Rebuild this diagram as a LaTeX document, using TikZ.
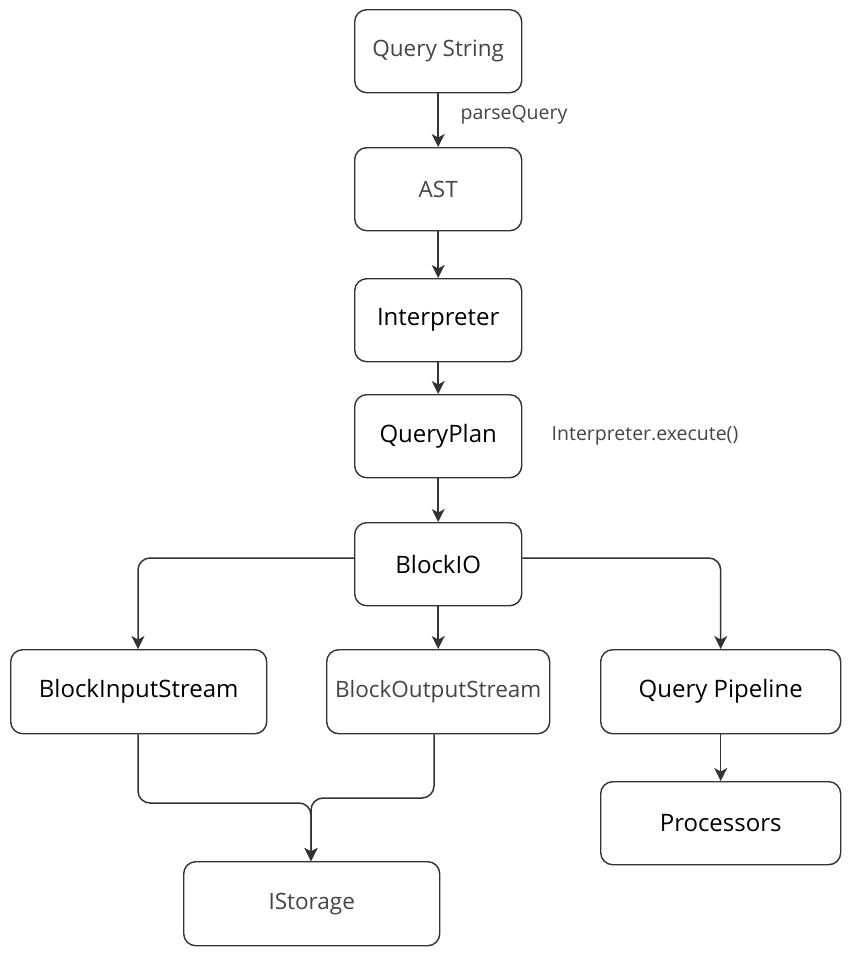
\documentclass[tikz,border=0pt]{standalone}
\usepackage{fontspec}
\setmainfont{Open Sans}
\usetikzlibrary{arrows.meta}
\definecolor{lc}{HTML}{333333}
\definecolor{tg}{HTML}{444444}
\tikzset{
  box/.style={draw=lc, line width=1.4pt, rounded corners=12pt, inner sep=0pt, anchor=north west},
  dk/.style={text=black, font=\fontsize{24}{28}\selectfont},
  gy/.style={text=tg, font=\fontsize{22.5}{26}\selectfont},
  lbl/.style={text=tg, font=\fontsize{19.5}{23}\selectfont},
  conn/.style={draw=lc, line width=1.5pt, -{Stealth[length=13pt,width=13pt,inset=3.5pt]}, rounded corners=12pt},
}
\begin{document}
\begin{tikzpicture}[x=1pt,y=-1pt]
\useasboundingbox (0,0) rectangle (854,954);
\node[box, minimum width=167pt, minimum height=83pt, gy] (qs) at (354,9) {Query String};
\node[box, minimum width=167pt, minimum height=83pt, gy] (ast) at (354,147) {AST};
\node[box, minimum width=167pt, minimum height=83pt, dk] (int) at (354,278) {Interpreter};
\node[box, minimum width=167pt, minimum height=83pt, dk] (qp) at (354,394) {QueryPlan};
\node[box, minimum width=167pt, minimum height=83pt, dk] (bio) at (354,522) {BlockIO};
\node[box, minimum width=256pt, minimum height=84pt, dk] (bis) at (10,649) {BlockInputStream};
\node[box, minimum width=223pt, minimum height=84pt, gy] (bos) at (326,649) {BlockOutputStream};
\node[box, minimum width=240pt, minimum height=84pt, dk] (qpl) at (600,649) {Query Pipeline};
\node[box, minimum width=240pt, minimum height=83pt, dk] (proc) at (600,781) {Processors};
\node[box, minimum width=256pt, minimum height=84pt, gy] (ist) at (183,861) {IStorage};

\node[lbl] (l1) at (514,115) {parseQuery};
\node[lbl] (l2) at (645,436) {Interpreter.execute()};

\draw[conn] (qs.south) -- (ast.north);
\draw[conn] (ast.south) -- (int.north);
\draw[conn] (int.south) -- (qp.north);
\draw[conn] (qp.south) -- (bio.north);
\draw[conn] (bio.west |- 0,558) -| (bis.north -| 138,0);
\draw[conn] (bio.east |- 0,558) -| (qpl.north);
\draw[conn] (bio.south) -- (bio.south |- bos.north);
\draw[conn] (qpl.south) -- (proc.north);
\draw[conn] (bis.south -| 138,0) |- (311,803) -- (ist.north -| 311,0);
\draw[conn] (bos.south -| 434,0) |- (311,798) -- (ist.north -| 311,0);
\end{tikzpicture}
\end{document}
